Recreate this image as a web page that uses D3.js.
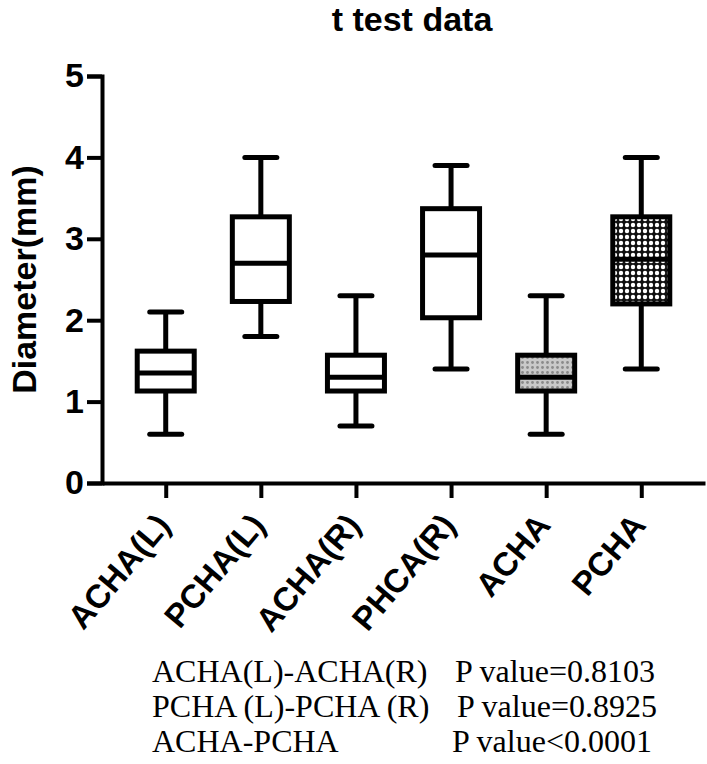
<!DOCTYPE html>
<html>
<head>
<meta charset="utf-8">
<script src="https://cdn.jsdelivr.net/npm/d3@7"></script>
<style>
  html, body { margin: 0; padding: 0; background: #fff; }
  svg { display: block; }
</style>
</head>
<body>
<svg id="chart" width="707" height="764"></svg>
<script>
// Box plot data (Diameter in mm)
var categories = ['ACHA(L)', 'PCHA(L)', 'ACHA(R)', 'PHCA(R)', 'ACHA', 'PCHA']
var whiskerLow = [0.6, 1.8, 0.7, 1.4, 0.6, 1.4]
var q1 = [1.13, 2.23, 1.13, 2.03, 1.13, 2.2]
var median = [1.35, 2.7, 1.3, 2.8, 1.3, 2.75]
var q3 = [1.62, 3.27, 1.57, 3.37, 1.57, 3.27]
var whiskerHigh = [2.1, 4.0, 2.3, 3.9, 2.3, 4.0]
var yTicks = [0, 1, 2, 3, 4, 5]

var title = 't test data'
var yLabel = 'Diameter(mm)'
var compareNames = ['ACHA(L)-ACHA(R)', 'PCHA (L)-PCHA (R)', 'ACHA-PCHA']
var pValues = ['P value=0.8103', 'P value=0.8925', 'P value<0.0001']

var svg = d3.select('#chart')
var sans = '"Liberation Sans", Arial, sans-serif'
var serif = '"Liberation Serif", "Times New Roman", serif'

// Fill patterns for the last two boxes
var defs = svg.append('defs')
var gray = defs.append('pattern').attr('id', 'grayPat')
  .attr('width', 5).attr('height', 5).attr('patternUnits', 'userSpaceOnUse')
gray.append('rect').attr('width', 5).attr('height', 5).attr('fill', '#c9c9c9')
gray.append('circle').attr('cx', 2.5).attr('cy', 2.5).attr('r', 1.4).attr('fill', '#8a8a8a')

var dots = defs.append('pattern').attr('id', 'dotPat')
  .attr('width', 6).attr('height', 6).attr('patternUnits', 'userSpaceOnUse')
dots.append('rect').attr('width', 6).attr('height', 6).attr('fill', '#111')
dots.append('circle').attr('cx', 3).attr('cy', 3).attr('r', 2.2).attr('fill', '#fff')

var boxFill = function(i) {
  if (i === 4) return 'url(#grayPat)'
  if (i === 5) return 'url(#dotPat)'
  return '#fff'
}

// Scales
var x = d3.scalePoint().domain(categories).range([102, 705]).padding(0.67)
var y = d3.scaleLinear().domain([0, 5]).range([483, 76])

// Axes
var yAxis = d3.axisLeft(y).tickValues(yTicks).tickSize(15).tickPadding(3).tickFormat(d3.format('d'))
var gy = svg.append('g').attr('transform', 'translate(102,0)').call(yAxis)
gy.select('.domain').attr('stroke', '#000').attr('stroke-width', 4)
gy.selectAll('.tick line').attr('stroke', '#000').attr('stroke-width', 4)
gy.selectAll('.tick text')
  .attr('font-family', sans).attr('font-weight', 'bold').attr('font-size', 34).attr('fill', '#000')

var xAxis = d3.axisBottom(x).tickSize(15).tickSizeOuter(0).tickFormat('')
var gx = svg.append('g').attr('transform', 'translate(0,483)').call(xAxis)
gx.select('.domain').attr('stroke', '#000').attr('stroke-width', 4)
gx.selectAll('.tick line').attr('stroke', '#000').attr('stroke-width', 4)

// Rotated category labels
svg.append('g').selectAll('text')
  .data(categories)
  .join('text')
  .attr('transform', function(d) { return 'translate(' + (x(d) + 6) + ',526) rotate(-50)' })
  .attr('text-anchor', 'end')
  .attr('font-family', sans).attr('font-weight', 'bold').attr('font-size', 33)
  .text(function(d) { return d })

// Box plots
var boxW = 57
var capW = 32
var boxes = svg.append('g').selectAll('g')
  .data(categories)
  .join('g')
  .attr('stroke', '#000')
  .attr('stroke-width', 5)

boxes.append('line')
  .attr('x1', function(d) { return x(d) }).attr('x2', function(d) { return x(d) })
  .attr('y1', function(d, i) { return y(whiskerHigh[i]) })
  .attr('y2', function(d, i) { return y(whiskerLow[i]) })

boxes.append('line')
  .attr('stroke-linecap', 'round')
  .attr('x1', function(d) { return x(d) - capW / 2 }).attr('x2', function(d) { return x(d) + capW / 2 })
  .attr('y1', function(d, i) { return y(whiskerHigh[i]) })
  .attr('y2', function(d, i) { return y(whiskerHigh[i]) })

boxes.append('line')
  .attr('stroke-linecap', 'round')
  .attr('x1', function(d) { return x(d) - capW / 2 }).attr('x2', function(d) { return x(d) + capW / 2 })
  .attr('y1', function(d, i) { return y(whiskerLow[i]) })
  .attr('y2', function(d, i) { return y(whiskerLow[i]) })

boxes.append('rect')
  .attr('x', function(d) { return x(d) - boxW / 2 })
  .attr('width', boxW)
  .attr('y', function(d, i) { return y(q3[i]) })
  .attr('height', function(d, i) { return y(q1[i]) - y(q3[i]) })
  .attr('fill', function(d, i) { return boxFill(i) })

boxes.append('line')
  .attr('x1', function(d) { return x(d) - boxW / 2 }).attr('x2', function(d) { return x(d) + boxW / 2 })
  .attr('y1', function(d, i) { return y(median[i]) })
  .attr('y2', function(d, i) { return y(median[i]) })

// Title and y label
svg.append('text')
  .attr('x', 412).attr('y', 31)
  .attr('text-anchor', 'middle')
  .attr('font-family', sans).attr('font-weight', 'bold').attr('font-size', 34)
  .text(title)

svg.append('text')
  .attr('transform', 'translate(36,' + y(2.5) + ') rotate(-90)')
  .attr('text-anchor', 'middle')
  .attr('font-family', sans).attr('font-weight', 'bold').attr('font-size', 34)
  .text(yLabel)

// p value notes under the chart
var noteX = [455, 457, 452]
compareNames.forEach(function(name, i) {
  svg.append('text')
    .attr('x', 152).attr('y', 682 + i * 35)
    .attr('font-family', serif).attr('font-size', 32)
    .text(name)
  svg.append('text')
    .attr('x', noteX[i]).attr('y', 682 + i * 35)
    .attr('font-family', serif).attr('font-size', 32)
    .text(pValues[i])
})
</script>
</body>
</html>
